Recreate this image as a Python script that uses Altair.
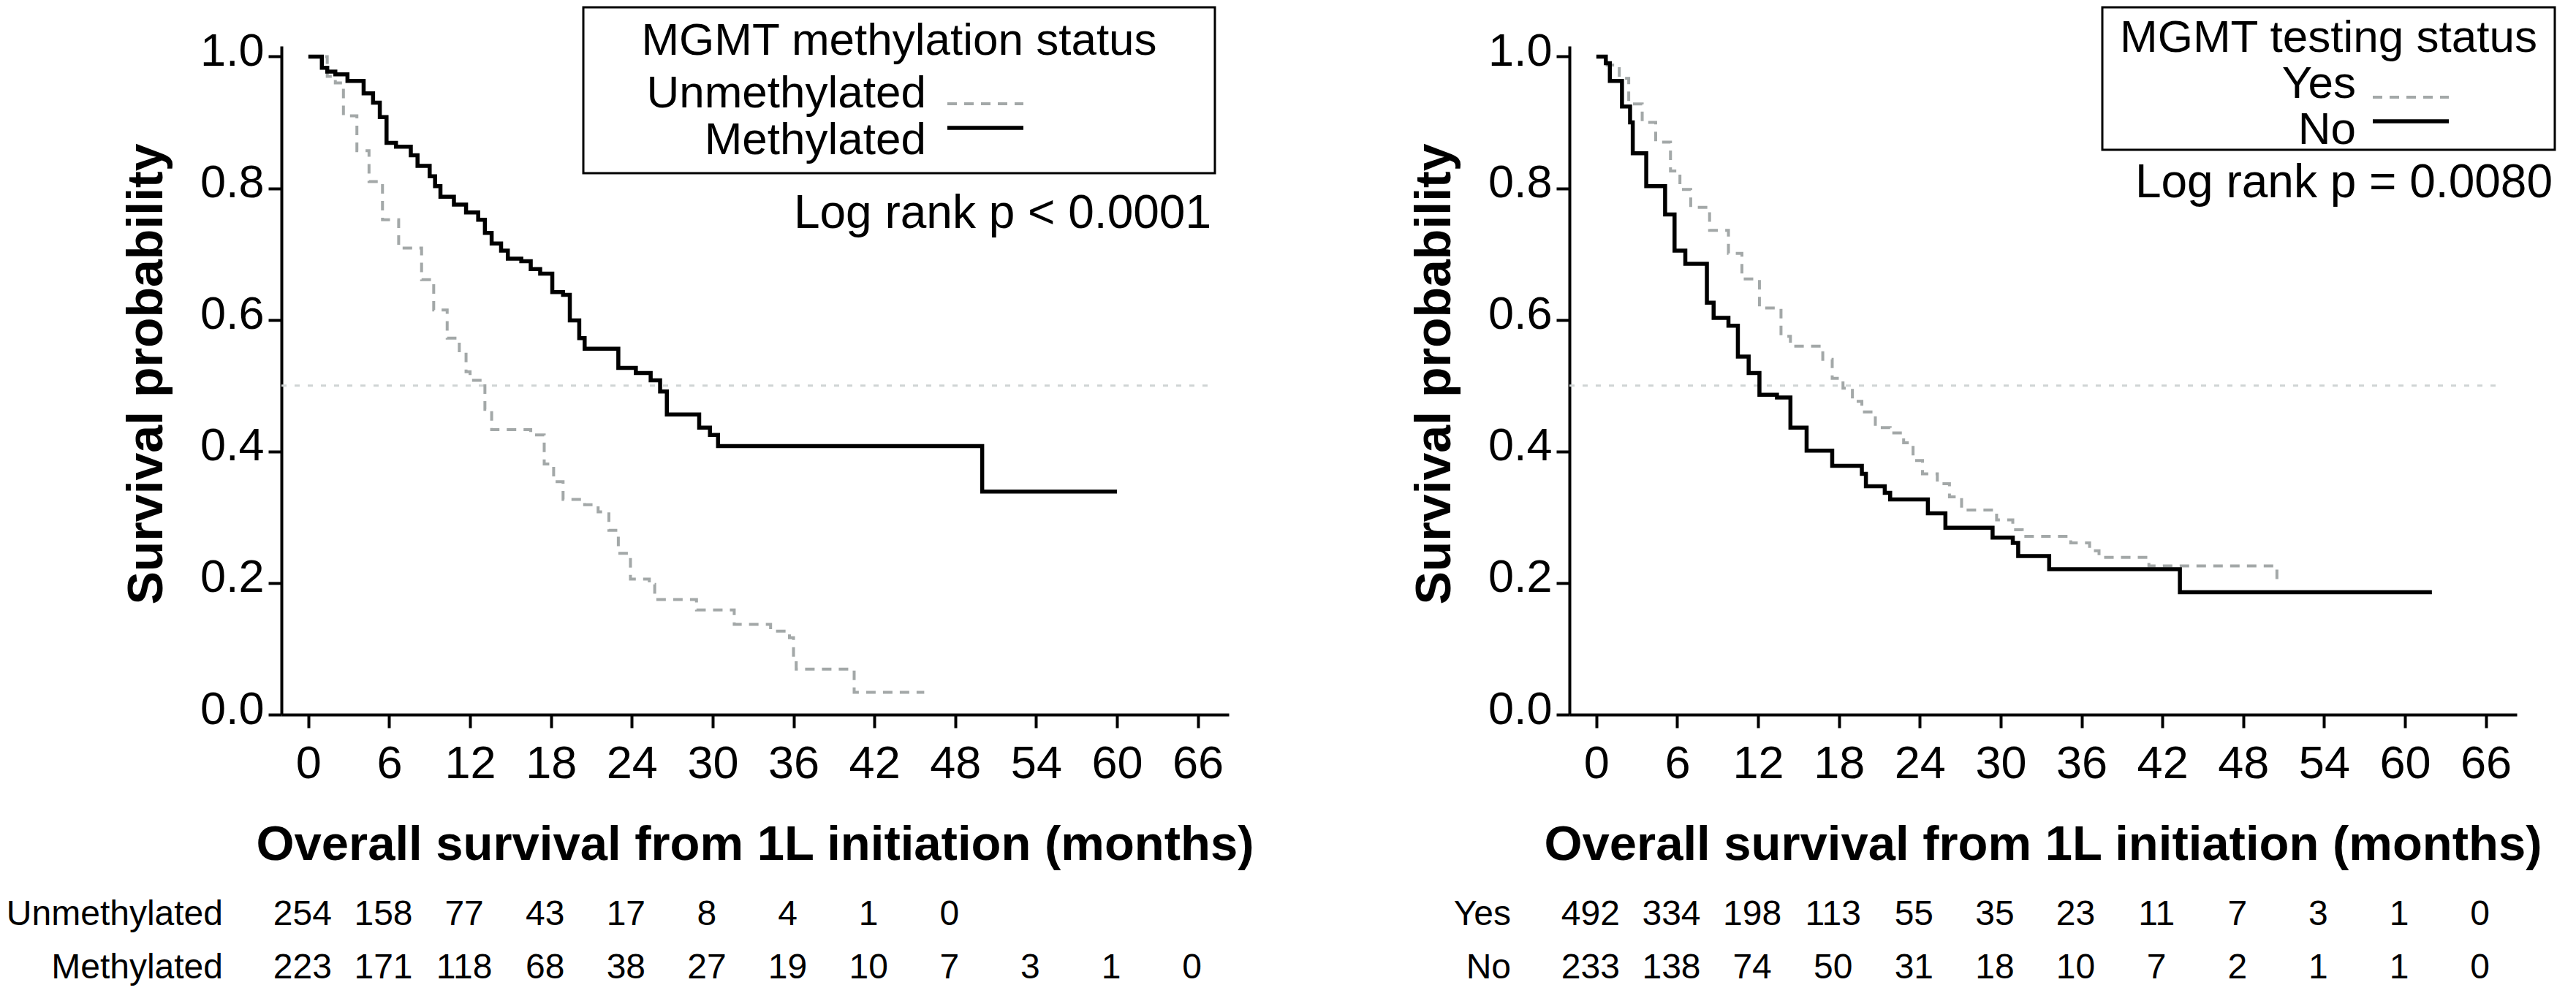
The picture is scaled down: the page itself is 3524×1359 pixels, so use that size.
import altair as alt
import pandas as pd

FONT = "Liberation Sans"

# ---------------- data ----------------
# Left panel: MGMT methylation status
meth_t = [0, 1.0, 1.4, 2.0, 2.9, 4.1, 4.8, 5.3, 5.8, 6.5, 7.6, 8.1, 9.0, 9.4, 9.8, 10.8, 11.7, 12.6,
          13.1, 13.6, 14.3, 14.8, 15.8, 16.5, 17.2, 18.1, 18.9, 19.4, 20.1, 20.5, 23.0, 24.3, 25.4,
          26.1, 26.6, 29.0, 29.8, 30.4, 50.0, 60.0]
meth_s = [1.0, 0.983, 0.977, 0.973, 0.963, 0.944, 0.930, 0.908, 0.869, 0.863, 0.850, 0.834, 0.818,
          0.803, 0.787, 0.775, 0.763, 0.752, 0.732, 0.716, 0.705, 0.693, 0.689, 0.677, 0.670, 0.642,
          0.638, 0.599, 0.572, 0.556, 0.527, 0.519, 0.508, 0.491, 0.456, 0.436, 0.425, 0.408, 0.339,
          0.339]
unmeth_t = [0, 1.4, 2.0, 2.6, 3.6, 4.5, 5.5, 6.7, 8.4, 9.3, 10.3, 11.2, 11.7, 12.0, 13.1, 13.6, 16.5,
            17.5, 18.2, 18.9, 20.5, 21.5, 22.3, 23.0, 23.9, 25.3, 25.7, 28.8, 31.6, 34.3, 35.7, 36.0,
            36.2, 40.5, 45.7]
unmeth_s = [1.0, 0.970, 0.960, 0.910, 0.857, 0.810, 0.752, 0.709, 0.661, 0.615, 0.572, 0.550, 0.521,
            0.508, 0.464, 0.433, 0.425, 0.381, 0.354, 0.327, 0.319, 0.308, 0.280, 0.245, 0.206, 0.198,
            0.175, 0.159, 0.137, 0.127, 0.117, 0.084, 0.069, 0.034, 0.034]

# Right panel: MGMT testing status
no_t = [0, 0.7, 1.0, 1.9, 2.5, 2.7, 3.7, 5.1, 5.8, 6.6, 8.2, 8.7, 9.8, 10.5, 11.3, 12.1, 13.4, 14.4,
        15.6, 17.5, 19.7, 20.0, 21.4, 21.8, 24.6, 25.9, 29.4, 30.9, 31.3, 33.6, 43.3, 62.0]
no_s = [1.0, 0.990, 0.963, 0.924, 0.900, 0.853, 0.803, 0.760, 0.705, 0.685, 0.626, 0.603, 0.591,
        0.544, 0.519, 0.486, 0.482, 0.436, 0.401, 0.378, 0.366, 0.347, 0.337, 0.327, 0.306, 0.284,
        0.269, 0.261, 0.241, 0.221, 0.186, 0.186]
yes_t = [0, 0.8, 1.7, 2.4, 3.4, 4.4, 5.5, 6.2, 7.0, 8.4, 9.8, 10.8, 12.1, 13.7, 14.4, 16.8, 17.5, 18.3,
         19.0, 19.7, 20.7, 21.8, 22.8, 23.5, 24.2, 25.3, 26.2, 27.1, 29.7, 30.9, 31.6, 35.2, 36.6,
         37.3, 41.0, 50.5]
yes_s = [1.0, 0.987, 0.967, 0.928, 0.900, 0.870, 0.826, 0.798, 0.771, 0.736, 0.701, 0.662, 0.618,
         0.575, 0.560, 0.540, 0.511, 0.496, 0.476, 0.460, 0.436, 0.428, 0.413, 0.386, 0.366, 0.351,
         0.331, 0.311, 0.296, 0.281, 0.271, 0.261, 0.249, 0.239, 0.226, 0.204]

# Numbers at risk
risk_times = [0, 6, 12, 18, 24, 30, 36, 42, 48, 54, 60, 66]
risk_unmeth = [254, 158, 77, 43, 17, 8, 4, 1, 0]
risk_meth = [223, 171, 118, 68, 38, 27, 19, 10, 7, 3, 1, 0]
risk_yes = [492, 334, 198, 113, 55, 35, 23, 11, 7, 3, 1, 0]
risk_no = [233, 138, 74, 50, 31, 18, 10, 7, 2, 1, 1, 0]

x_ticks = [0, 6, 12, 18, 24, 30, 36, 42, 48, 54, 60, 66]
y_ticks = [0.0, 0.2, 0.4, 0.6, 0.8, 1.0]
x_domain = [-2, 68.3]
y_domain = [0, 1.016]
ref_y = 0.5
ref_x = [-2, 67]

# ---------------- layout ----------------
W = 1296
H = 915
GRAY = "#a3a8a8"
LEG = 62


def txt(label, x, y, size, align="left", weight="normal", angle=0):
    return alt.Chart(pd.DataFrame({"label": [label]})).mark_text(
        font=FONT, fontSize=size, fontWeight=weight, align=align, baseline="alphabetic",
        color="black", angle=angle
    ).encode(x=alt.value(x), y=alt.value(y), text="label:N")


def panel(gray, black, risk_gray, risk_black, names, title, pval, lg):
    xs = alt.Scale(domain=x_domain, nice=False, zero=False)
    ys = alt.Scale(domain=y_domain, nice=False, zero=False)
    xax = alt.Axis(values=x_ticks, title=None, grid=False, labelFont=FONT, labelFontSize=63,
                   labelColor="black", labelBaseline="alphabetic", labelPadding=68,
                   labelFlush=False, labelOverlap=False, domainColor="black", domainWidth=4,
                   tickColor="black", tickWidth=4, tickSize=18)
    yax = alt.Axis(values=y_ticks, format=".1f", title=None, grid=False, labelFont=FONT,
                   labelFontSize=63, labelColor="black", labelBaseline="alphabetic",
                   labelOffset=12, labelPadding=6, labelFlush=False, labelOverlap=False,
                   domainColor="black", domainWidth=4, tickColor="black", tickWidth=4,
                   tickSize=18)

    ref = alt.Chart(pd.DataFrame({"x": [ref_x[0]], "x2": [ref_x[1]], "y": [ref_y]})).mark_rule(
        color="#d0d4d4", strokeWidth=3, strokeDash=[7, 11]
    ).encode(x=alt.X("x:Q", scale=xs, axis=xax), x2="x2:Q", y=alt.Y("y:Q", scale=ys, axis=yax))

    g_df = pd.DataFrame({"t": gray[0], "s": gray[1]})
    b_df = pd.DataFrame({"t": black[0], "s": black[1]})
    gline = alt.Chart(g_df).mark_line(
        interpolate="step-after", color=GRAY, strokeWidth=4, strokeDash=[13, 10]
    ).encode(x=alt.X("t:Q", scale=xs, axis=xax), y=alt.Y("s:Q", scale=ys, axis=yax))
    bline = alt.Chart(b_df).mark_line(
        interpolate="step-after", color="black", strokeWidth=5.5
    ).encode(x=alt.X("t:Q", scale=xs, axis=xax), y=alt.Y("s:Q", scale=ys, axis=yax))

    layers = [ref, gline, bline]

    # numbers at risk
    for vals, yy in ((risk_gray, H + 288), (risk_black, H + 361)):
        df = pd.DataFrame({"t": risk_times[:len(vals)], "n": vals})
        layers.append(alt.Chart(df).mark_text(
            font=FONT, fontSize=48, align="center", baseline="alphabetic", color="black", dx=-8
        ).encode(x=alt.X("t:Q", scale=xs, axis=xax), y=alt.value(yy), text="n:N"))
    layers.append(txt(names[0], -80, H + 288, 48, align="right"))
    layers.append(txt(names[1], -80, H + 361, 48, align="right"))

    # axis titles
    layers.append(txt("Survival probability", -163, 449, 68, align="center", weight="bold",
                      angle=270))
    layers.append(txt("Overall survival from 1L initiation (months)", W / 2, H + 199, 67,
                      align="center", weight="bold"))

    # legend box
    box = alt.Chart(alt.Data(values=[{}])).mark_rect(
        fillOpacity=0, stroke="black", strokeWidth=3
    ).encode(x=alt.value(lg["x0"]), x2=alt.value(lg["x1"]), y=alt.value(-53),
             y2=alt.value(lg["y1"]))
    layers.append(box)
    layers.append(txt(title, (lg["x0"] + lg["x1"]) / 2, lg["ty"], LEG, align="center"))
    layers.append(txt(names[0], lg["lx"], lg["l1"], LEG, align="right"))
    layers.append(txt(names[1], lg["lx"], lg["l2"], LEG, align="right"))
    layers.append(alt.Chart(alt.Data(values=[{}])).mark_rule(
        color=GRAY, strokeWidth=4, strokeDash=[13, 10]
    ).encode(x=alt.value(lg["sx0"]), x2=alt.value(lg["sx1"]), y=alt.value(lg["s1"])))
    layers.append(alt.Chart(alt.Data(values=[{}])).mark_rule(
        color="black", strokeWidth=5.5
    ).encode(x=alt.value(lg["sx0"]), x2=alt.value(lg["sx1"]), y=alt.value(lg["s2"])))
    layers.append(txt(pval, lg["px"], lg["py"], LEG + 2, align="right"))

    return alt.layer(*layers).properties(width=W, height=H)


left = panel(
    (unmeth_t, unmeth_s), (meth_t, meth_s), risk_unmeth, risk_meth,
    ["Unmethylated", "Methylated"], "MGMT methylation status", "Log rank p < 0.0001",
    dict(x0=413, x1=1277, y1=174, ty=12, lx=882, l1=84, l2=148, sx0=911, sx1=1015, s1=79,
         s2=112, px=1272, py=249),
)
right = panel(
    (yes_t, yes_s), (no_t, no_s), risk_yes, risk_no,
    ["Yes", "No"], "MGMT testing status", "Log rank p = 0.0080",
    dict(x0=729, x1=1348, y1=142, ty=8, lx=1076, l1=71, l2=134, sx0=1099, sx1=1203, s1=70,
         s2=103, px=1345, py=207),
)

chart = alt.hconcat(left, right, spacing=466, bounds="flush").properties(
    padding=0, background="white"
).configure_view(stroke=None)

chart.save("out.html", embed_options={"renderer": "svg", "actions": False})
